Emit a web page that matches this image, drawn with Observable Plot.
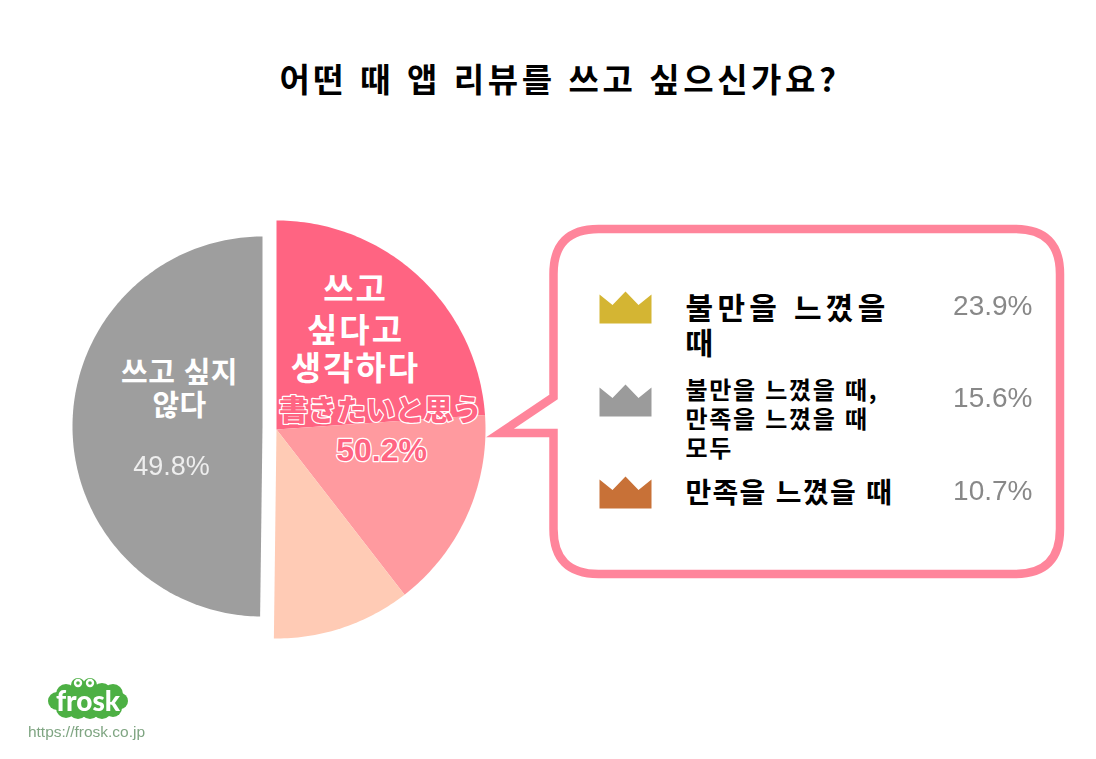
<!DOCTYPE html>
<html lang="ko">
<head>
<meta charset="utf-8">
<script src="https://cdn.jsdelivr.net/npm/d3@7"></script>
<script src="https://cdn.jsdelivr.net/npm/@observablehq/plot@0.6"></script>
<style>
html,body{margin:0;padding:0;background:#fff;overflow:hidden}
svg{display:block;background:#fff}
</style>
</head>
<body>
<div id="chart"></div>
<script>
// ---- data ----
const titleText = "어떤 때 앱 리뷰를 쓰고 싶으신가요?";
const sliceNames = ["불만을 느꼈을 때", "불만을 느꼈을 때, 만족을 느꼈을 때 모두", "만족을 느꼈을 때", "쓰고 싶지 않다"];
const sliceValues = [23.9, 15.6, 10.7, 49.8];
const sliceColors = ["#FF6482", "#FF9A9F", "#FFCBB5", "#9E9E9E"];
const rowLabels = [["불만을 느꼈을", "때"], ["불만을 느꼈을 때,", "만족을 느꼈을 때", "모두"], ["만족을 느꼈을 때"]];
const rowValues = ["23.9%", "15.6%", "10.7%"];
const crownColors = ["#D4B533", "#9B9B9B", "#C87137"];

// ---- layout ----
const W = 1096, H = 759;
const yesPie = {cx: 276, cy: 429, r: 209};
const noPie = {cx: 262, cy: 426, r: 190};
const rowCrownY = [307, 400, 492];
const rowValueY = [306, 398, 491];
const rowLabelY = [[308.5, 344], [391, 420, 449], [493.5]];
const rowLabelSize = [30, 24, 28];
const rowLabelSpacing = [4.3, 1.7, 1.3];
const korean = "'Noto Sans CJK KR'";
const japanese = "'Noto Sans CJK JP'";
const latin = "'Liberation Sans', Arial, sans-serif";

// letter spacing / softening on a text mark's group
const look = (spacing, blur) => ({
  render(index, scales, values, dims, context, next) {
    const g = next(index, scales, values, dims, context);
    if (spacing) g.style.letterSpacing = spacing + "px";
    if (blur) g.style.filter = `blur(${blur}px)`;
    return g;
  }
});

// ---- slice outlines from the values ----
const arcs = d3.pie().sort(null).startAngle(0).endAngle(2 * Math.PI).value(d => d)(sliceValues);
const wedgePoints = arcs.flatMap((a, i) => {
  const p = i === 3 ? noPie : yesPie;
  const at = t => ({name: sliceNames[i], x: p.cx + p.r * Math.sin(t), y: p.cy - p.r * Math.cos(t)});
  const n = Math.ceil((a.endAngle - a.startAngle) * 60);
  return [
    {name: sliceNames[i], x: p.cx, y: p.cy},
    ...d3.range(n + 1).map(k => at(a.startAngle + (a.endAngle - a.startAngle) * k / n))
  ];
});

// ---- crown symbol ----
const crown = {
  draw(ctx, size) {
    const r = Math.sqrt(size / Math.PI);
    ctx.moveTo(-r, -0.5 * r);
    ctx.lineTo(-0.5 * r, -0.1 * r);
    ctx.lineTo(0, -0.615 * r);
    ctx.lineTo(0.5 * r, -0.1 * r);
    ctx.lineTo(r, -0.5 * r);
    ctx.lineTo(r, 0.615 * r);
    ctx.lineTo(-r, 0.615 * r);
    ctx.closePath();
  }
};

// ---- call-out and logo artwork ----
function callout() {
  const l = 553.5, r = 1060, t = 229, b = 574, q = 45, py1 = 397, py2 = 433, tip = 500;
  const path = `M${l + q},${t}H${r - q}Q${r},${t} ${r},${t + q}V${b - q}Q${r},${b} ${r - q},${b}H${l + q}Q${l},${b} ${l},${b - q}V${py2}H${tip}L${l},${py1}V${t + q}Q${l},${t} ${l + q},${t}Z`;
  const g = d3.create("svg:g").attr("aria-label", "callout");
  g.append("path").attr("d", path).attr("fill", "#fff").attr("stroke", "#FF859B")
    .attr("stroke-width", 8.5).attr("stroke-linejoin", "miter").attr("stroke-miterlimit", 10);
  return g.node();
}
function logo() {
  const g = d3.create("svg:g").attr("aria-label", "logo").style("filter", "blur(.5px)");
  const green = "#4DB044";
  const blobs = [[57,701,9],[66,694,10],[66,708,10],[78,693,10],[78,709,10],[90,693,10],[90,709,10],[102,693,10],[102,709,10],[113,694,10],[113,708,9],[120,701,8],[78,685,7],[90,685,7]];
  blobs.forEach(([x,y,r]) => g.append("circle").attr("cx",x).attr("cy",y).attr("r",r).attr("fill",green));
  [[78,683],[90,683]].forEach(([x,y]) => {
    g.append("circle").attr("cx",x).attr("cy",y).attr("r",4.2).attr("fill","#fff");
    g.append("circle").attr("cx",x).attr("cy",y).attr("r",1.8).attr("fill",green);
  });
  g.append("text").attr("x",88).attr("y",711).attr("text-anchor","middle")
    .attr("font-family","Lato, Roboto, sans-serif").attr("font-weight",900).attr("font-size",28)
    .attr("fill","#fff").text("frosk");
  return g.node();
}

const rows = rowValues.map((v, i) => ({v, color: crownColors[i], cy: rowCrownY[i], vy: rowValueY[i]}));

const plot = Plot.plot({
  width: W, height: H,
  margin: 0,
  x: {type: "identity", axis: null},
  y: {type: "identity", axis: null},
  color: {domain: sliceNames, range: sliceColors},
  style: {background: "#fff"},
  marks: [
    Plot.text([titleText], {x: 559, y: 81, text: d => d, fontFamily: korean, fontWeight: 700, fontSize: 33, fill: "#000", ...look(3.6)}),
    callout,
    Plot.line(wedgePoints, {x: "x", y: "y", z: "name", fill: "name", stroke: "none", curve: "linear"}),
    // yes-wedge labels
    Plot.text([{t: "쓰고", x: 355, y: 290}, {t: "싶다고", x: 355, y: 331}, {t: "생각하다", x: 355, y: 369}], {
      x: "x", y: "y", text: "t", fontFamily: korean, fontWeight: 700, fontSize: 33, fill: "#fff", ...look(2)}),
    Plot.text(["書きたいと思う"], {x: 380, y: 411, text: d => d, fontSize: 29, fontFamily: japanese, fontWeight: 900, fill: "#FF6482",
      stroke: "#fff", strokeWidth: 2.5, strokeLinejoin: "round", paintOrder: "stroke"}),
    Plot.text(["50.2%"], {x: 381, y: 450, text: d => d, fontSize: 32, fontFamily: latin, fontWeight: 700, fill: "#FF6482",
      stroke: "#fff", strokeWidth: 2.5, strokeLinejoin: "round", paintOrder: "stroke"}),
    // no-wedge labels
    Plot.text([{t: "쓰고 싶지", y: 373.5}, {t: "않다", y: 406.5}], {
      x: 179, y: "y", text: "t", fontFamily: korean, fontWeight: 700, fontSize: 29, fill: "#fff", ...look(0.4)}),
    Plot.text(["49.8%"], {x: 171, y: 466, text: d => d, fontFamily: latin, fontSize: 27, fill: "#EEEEEE", ...look(0, 0.3)}),
    // panel rows
    Plot.dot(rows, {x: 625, y: "cy", r: 26, symbol: crown, fill: "color", stroke: "none"}),
    ...rowLabels.map((lines, i) => Plot.text(lines.map((text, j) => ({text, y: rowLabelY[i][j]})), {
      x: 685, y: "y", text: "text", fontSize: rowLabelSize[i], textAnchor: "start", fontFamily: korean, fontWeight: 700, fill: "#000", ...look(rowLabelSpacing[i])})),
    Plot.text(rows, {x: 1032, y: "vy", text: "v", textAnchor: "end", fontFamily: latin, fontSize: 28, fill: "#888888", ...look(0, 0.3)}),
    logo,
    Plot.text(["https://frosk.co.jp"], {x: 86, y: 732, text: d => d, fontFamily: latin, fontSize: 15.5, fill: "#7FA582", ...look(0, 0.4)})
  ]
});
document.getElementById("chart").append(plot);
</script>
</body>
</html>
